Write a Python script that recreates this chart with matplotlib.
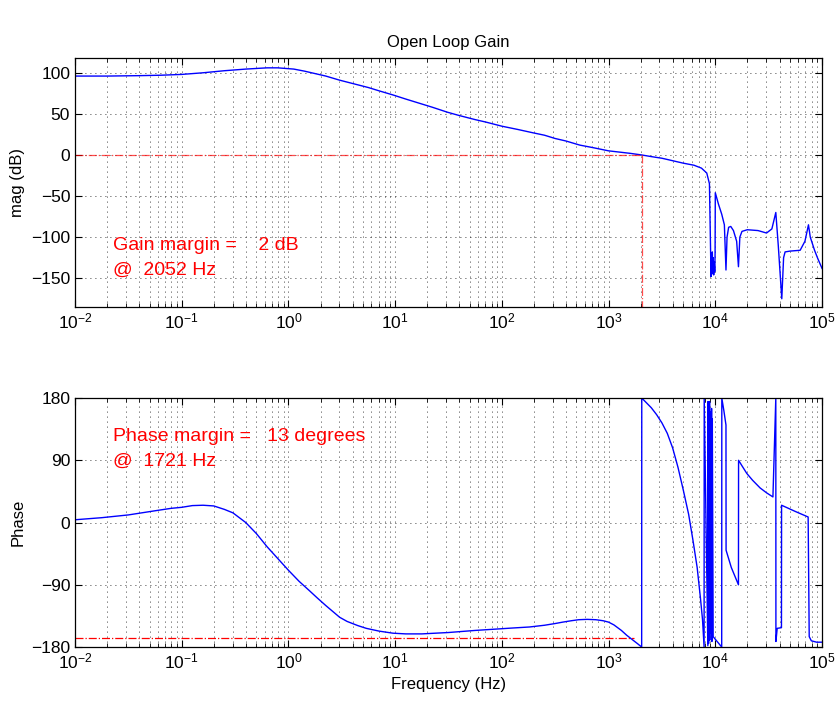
import numpy as np
import matplotlib
matplotlib.use("Agg")
import matplotlib.pyplot as plt
from matplotlib.ticker import FixedLocator, NullFormatter, LogFormatterSciNotation

plt.rcParams['font.family'] = ['Liberation Sans', 'DejaVu Sans']
plt.rcParams['mathtext.fontset'] = 'custom'
plt.rcParams['mathtext.rm'] = 'Liberation Sans'

# --- digitised open loop response (log10 of frequency in Hz) ---
mag_logf = [-2.0, -1.7, -1.4, -1.2, -1.0, -0.8, -0.6, -0.4,
            -0.2, -0.1, 0.0, 0.05, 0.15, 0.25, 0.35, 0.48,
            0.6, 0.75, 0.85, 0.98, 1.1, 1.25, 1.35, 1.49,
            1.6, 1.75, 1.85, 2.0, 2.15, 2.29, 2.4, 2.5,
            2.6, 2.73, 2.85, 3.0, 3.1, 3.2, 3.31, 3.4,
            3.5, 3.6, 3.7, 3.8, 3.87, 3.92, 3.945, 3.96,
            3.965, 3.968, 3.972, 3.976, 3.98, 3.985, 3.99, 3.995,
            3.998, 4.0, 4.03, 4.06, 4.085, 4.1, 4.11, 4.125,
            4.145, 4.17, 4.2, 4.217, 4.23, 4.25, 4.3, 4.4,
            4.48, 4.53, 4.567, 4.59, 4.623, 4.64, 4.654, 4.7,
            4.795, 4.84, 4.873, 4.89, 4.93, 4.96, 5.0]
mag_db = [96, 96, 96.5, 97, 98, 100, 102.5, 104.5,
          106, 106, 105, 104.5, 102, 99, 96, 91,
          87, 82, 78, 73, 68, 62, 58, 52,
          48, 43, 40, 35, 31, 27, 24, 20,
          17, 12, 9, 5, 3.5, 2, 0, -2,
          -4, -7, -10, -12.5, -16, -22, -35, -148,
          -120, -145, -118, -140, -125, -146, -130, -142,
          -120, -46, -60, -72, -85, -140, -100, -88,
          -87, -92, -105, -136, -100, -93, -91, -92,
          -95, -90, -70, -110, -175, -125, -118, -117,
          -116, -105, -85, -100, -116, -126, -138]

ph_logf = [-2.0, -1.75, -1.5, -1.25, -1.1, -1.0, -0.9, -0.8,
           -0.7, -0.6, -0.52, -0.4, -0.3, -0.2, -0.1, 0.0,
           0.1, 0.2, 0.27, 0.35, 0.48, 0.55, 0.65, 0.73,
           0.85, 0.98, 1.1, 1.25, 1.5, 1.75, 1.95, 2.1,
           2.26, 2.4, 2.5, 2.57, 2.65, 2.72, 2.8, 2.88,
           2.95, 3.0, 3.05, 3.12, 3.17, 3.22, 3.27, 3.31,
           3.311, 3.4, 3.45, 3.5, 3.55, 3.6, 3.65, 3.7,
           3.75, 3.79, 3.83, 3.86, 3.88, 3.895, 3.896, 3.93,
           3.932, 3.937, 3.94, 3.943, 3.946, 3.95, 3.952, 3.955,
           3.958, 3.962, 3.965, 3.968, 3.972, 3.98, 4.06, 4.061,
           4.08, 4.1, 4.101, 4.15, 4.217, 4.218, 4.25, 4.295,
           4.35, 4.42, 4.48, 4.54, 4.567, 4.568, 4.58, 4.62,
           4.621, 4.75, 4.87, 4.88, 4.9, 4.95, 5.0]
ph_deg = [4, 7, 11, 17, 20.5, 22, 24.5, 25,
          24, 19, 14, 0, -16, -35, -52, -69,
          -85, -99, -109, -120, -137, -143, -149, -153,
          -157, -160, -161, -161, -159, -156, -154, -152.5,
          -151, -148.5, -146, -144, -142, -140.5, -140, -140.5,
          -142, -144, -148, -156, -163, -169, -175, -180,
          180, 166, 156, 144, 129, 108, 80, 47,
          12, -25, -65, -108, -140, -180, 180, -178,
          175, -175, 170, -170, 175, -160, 160, -150,
          150, -170, 165, -172, 150, -165, -180, 180,
          162, 141, -40, -65, -90, 90, 82, 71,
          61, 50, 43, 37, 180, -172, -153, -152,
          25, 16, 8, -165, -171, -173, -173]

gain_margin_db = 2
gain_margin_hz = 2052
phase_margin_deg = 13
phase_margin_hz = 1721

mag_f = 10.0 ** np.array(mag_logf)
ph_f = 10.0 ** np.array(ph_logf)

fig = plt.figure(figsize=(8.37, 7.02), dpi=100)
axMag = fig.add_axes([0.0896, 0.5627, 0.8925, 0.3547])
axPh = fig.add_axes([0.0896, 0.0783, 0.8925, 0.3547])

gridStyle = dict(color='black', linestyle=(0, (1, 5)), linewidth=0.6)
majorX = [10.0 ** k for k in range(-2, 6)]
minorX = [m * 10.0 ** k for k in range(-2, 5) for m in range(2, 10)]


def styleAxis(ax):
    ax.set_xscale('log')
    ax.set_xlim(1e-2, 1e5)
    ax.xaxis.set_major_locator(FixedLocator(majorX))
    ax.xaxis.set_major_formatter(LogFormatterSciNotation())
    ax.xaxis.set_minor_locator(FixedLocator(minorX))
    ax.xaxis.set_minor_formatter(NullFormatter())
    ax.tick_params(which='both', direction='in', top=True, right=True, labelsize=12.5)
    ax.tick_params(which='major', length=5, width=0.8)
    ax.tick_params(which='minor', length=3, width=0.6)
    ax.grid(True, which='major', axis='both', **gridStyle)
    ax.grid(True, which='minor', axis='x', **gridStyle)
    for s in ax.spines.values():
        s.set_linewidth(0.9)


# --- magnitude ---
styleAxis(axMag)
axMag.plot(mag_f, mag_db, color='blue', linewidth=1.0)
axMag.plot([1e-2, gain_margin_hz], [0, 0], color='red', linestyle='-.', linewidth=0.9, alpha=0.7)
axMag.plot([gain_margin_hz, gain_margin_hz], [0, -185], color='red', linestyle='-.', linewidth=0.9, alpha=0.7)
axMag.set_ylim(-185, 118)
axMag.yaxis.set_major_locator(FixedLocator([-150, -100, -50, 0, 50, 100]))
axMag.set_ylabel('mag (dB)', fontsize=12)
axMag.set_title('Open Loop Gain', fontsize=12, pad=8)
axMag.text(0.0227, -110, f'Gain margin =    {gain_margin_db} dB', color='red', fontsize=14, va='center')
axMag.text(0.0227, -140, f'@  {gain_margin_hz} Hz', color='red', fontsize=14, va='center')

# --- phase ---
styleAxis(axPh)
axPh.plot(ph_f, ph_deg, color='blue', linewidth=1.0)
axPh.plot([1e-2, phase_margin_hz], [-180 + phase_margin_deg] * 2, color='red', linestyle='-.', linewidth=0.9)
axPh.set_ylim(-180, 180)
axPh.yaxis.set_major_locator(FixedLocator([-180, -90, 0, 90, 180]))
axPh.set_ylabel('Phase', fontsize=12)
axPh.set_xlabel('Frequency (Hz)', fontsize=12)
axPh.text(0.0227, 124, f'Phase margin =   {phase_margin_deg} degrees', color='red', fontsize=14, va='center')
axPh.text(0.0227, 88, f'@  {phase_margin_hz} Hz', color='red', fontsize=14, va='center')

fig.savefig('out.png', dpi=100)
